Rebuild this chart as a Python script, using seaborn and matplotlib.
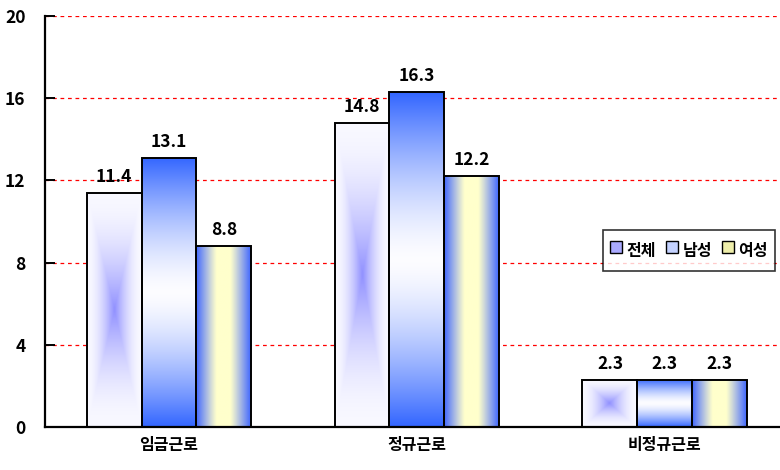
import numpy as np
import pandas as pd
import matplotlib
matplotlib.use('Agg')
import matplotlib.pyplot as plt
import seaborn as sns
from matplotlib.lines import Line2D

categories = ['임금근로', '정규근로', '비정규근로']
series = ['전체', '남성', '여성']
total = [11.4, 14.8, 2.3]
male = [13.1, 16.3, 2.3]
female = [8.8, 12.2, 2.3]
yticks = [0, 4, 8, 12, 16, 20]

df = pd.DataFrame({
    'cat': categories * 3,
    'series': np.repeat(series, 3),
    'value': total + male + female,
})

sns.set_style('white')
plt.rcParams['font.family'] = ['Noto Sans CJK KR', 'DejaVu Sans']
plt.rcParams['text.color'] = 'black'
plt.rcParams['xtick.color'] = 'black'
plt.rcParams['ytick.color'] = 'black'
plt.rcParams['font.weight'] = 'bold'

fig = plt.figure(figsize=(7.8, 4.7), dpi=100)
ax = fig.add_axes([45 / 780, 43 / 470, 735 / 780, 411 / 470])

sns.barplot(data=df, x='cat', y='value', hue='series', order=categories,
            hue_order=series, palette=['#9999ff', '#3366ff', '#ffffcc'],
            width=0.665, edgecolor='black', linewidth=1.4, saturation=1,
            errorbar=None, legend=False, ax=ax)

blue_c = np.array([0x90, 0x90, 0xff]) / 255
blue_m = np.array([0x33, 0x66, 0xff]) / 255
blue_f = np.array([0x40, 0x66, 0xff]) / 255
yellow = np.array([0xff, 0xff, 0xcc]) / 255


def grad_total(n=200, m=60):
    yy, xx = np.mgrid[-1:1:n * 1j, -1:1:m * 1j]
    t = np.maximum(np.abs(xx), np.abs(yy))
    f = (1 - t) ** 1.8
    edge = np.array([0.975, 0.975, 1.0])
    return edge + (blue_c - edge) * f[..., None]


def grad_male(n=200, m=10):
    yy, xx = np.mgrid[-1:1:n * 1j, -1:1:m * 1j]
    t = np.abs(yy)
    f = t ** 1.5
    edge = np.array([0.99, 0.99, 1.0])
    return edge + (blue_m - edge) * f[..., None]


def grad_female(n=10, m=200):
    yy, xx = np.mgrid[-1:1:n * 1j, -1:1:m * 1j]
    t = np.abs(xx)
    f = np.clip((t - 0.25) / 0.75, 0, 1) ** 1.1
    return yellow + (blue_f - yellow) * f[..., None]


grads = [grad_total, grad_male, grad_female]

for i, cont in enumerate(ax.containers):
    for bar in cont:
        x, w, h = bar.get_x(), bar.get_width(), bar.get_height()
        img = grads[i]()
        im = ax.imshow(img, extent=[x, x + w, 0, h], aspect='auto',
                       origin='lower', zorder=1.5, interpolation='bilinear')
        im.set_clip_path(bar)
        bar.set_facecolor('none')
        bar.set_zorder(2)
    ax.bar_label(cont, fmt='%.1f', padding=5, fontsize=12.5,
                 fontweight='bold', color='black', zorder=3)

ax.set_xlim(-0.5, 2.464)
ax.set_ylim(0, 20)
ax.set_yticks(yticks)
ax.set_yticklabels([str(v) for v in yticks], fontsize=12.5, fontweight='bold')
for lab in ax.get_xticklabels():
    lab.set_fontweight('bold')
ax.set_xlabel('')
ax.set_ylabel('')
ax.tick_params(axis='y', direction='in', length=7, width=1.4, pad=14,
               left=True, color='black')
ax.tick_params(axis='x', length=0, pad=7, labelsize=11.5)

ax.set_axisbelow(True)
ax.yaxis.grid(True, color='#ff0000', linestyle=(0, (3, 3)), linewidth=0.9)
ax.xaxis.grid(False)

for s in ['top', 'right']:
    ax.spines[s].set_visible(False)
for s in ['left', 'bottom']:
    ax.spines[s].set_color('black')
    ax.spines[s].set_linewidth(1.6)

handle_colors = ['#aaaaff', '#c4d2ff', '#eeeeaa']
handles = [Line2D([], [], linestyle='none', marker='s', markersize=9,
                  markerfacecolor=c, markeredgecolor='black',
                  markeredgewidth=1.0) for c in handle_colors]
leg = ax.legend(handles, series, ncol=3, loc='upper right',
                bbox_to_anchor=(0.993, 0.479),
                prop={'size': 11.5, 'weight': 'bold'},
                frameon=True, fancybox=False, edgecolor='black',
                handlelength=0.8, handleheight=2.2, handletextpad=0.25,
                columnspacing=0.6, borderpad=0.45, borderaxespad=0)
leg.get_frame().set_linewidth(1.2)

fig.savefig('out.png', dpi=100)
